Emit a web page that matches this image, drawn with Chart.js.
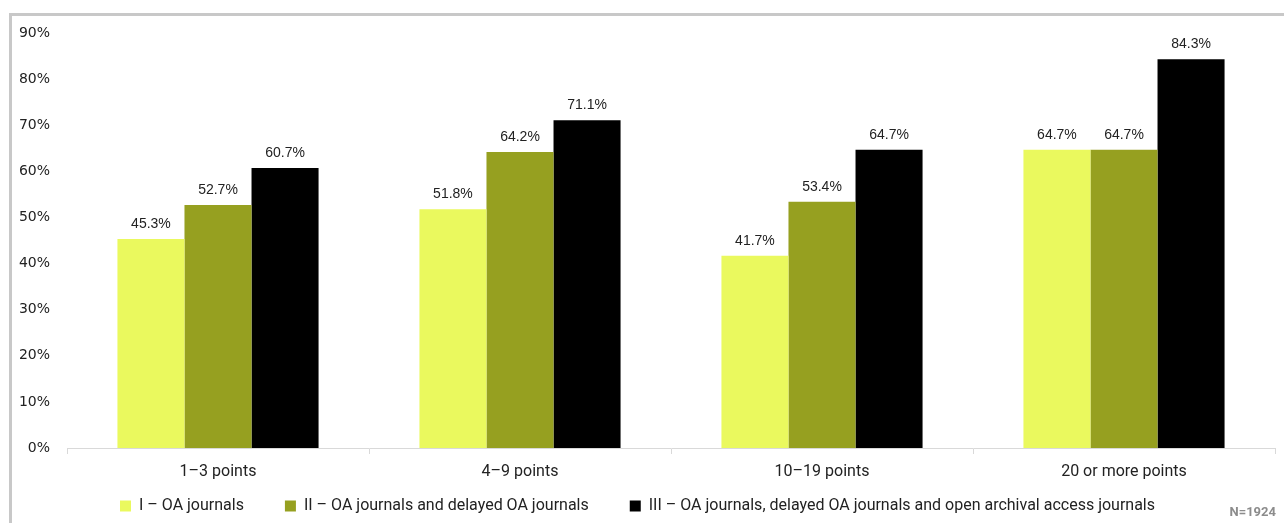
<!DOCTYPE html>
<html>
<head>
<meta charset="utf-8">
<script src="https://cdn.jsdelivr.net/npm/chart.js@4.4.1/dist/chart.umd.min.js"></script>
<style>
  html, body { margin: 0; padding: 0; background: #fff; }
  #wrap { position: relative; width: 1284px; height: 523px; overflow: hidden; }
  #c { position: absolute; left: 0; top: 0; }
  .bl { position: absolute; left: 9px; top: 13px; width: 3px; height: 520px; background: #c8c8c8; }
  .bt { position: absolute; left: 9px; top: 13px; width: 1290px; height: 3px; background: #c8c8c8; }
</style>
</head>
<body>
<div id="wrap">
  <canvas id="c" width="1284" height="523"></canvas>
  <div class="bl"></div>
  <div class="bt"></div>
</div>
<script>
const categories = ["1–3 points", "4–9 points", "10–19 points", "20 or more points"];
const seriesNames = [
  "I – OA journals",
  "II – OA journals and delayed OA journals",
  "III – OA journals, delayed OA journals and open archival access journals"
];
const seriesI = [45.3, 51.8, 41.7, 64.7];
const seriesII = [52.7, 64.2, 53.4, 64.7];
const seriesIII = [60.7, 71.1, 64.7, 84.3];
const yTicks = [0, 10, 20, 30, 40, 50, 60, 70, 80, 90];
const noteText = "N=1924";

const LEGEND_GAP = 41;      // horizontal gap between legend items
const LEGEND_VPAD = 12;     // vertical padding above legend items

const legendSpacing = {
  id: 'legendSpacing',
  beforeUpdate(chart) {
    const lg = chart.legend;
    if (lg && !lg._patched) {
      lg._patched = true;
      // reduce the vertical space that the (wide) horizontal padding would add
      lg._computeTitleHeight = () => LEGEND_VPAD - LEGEND_GAP;
    }
  }
};

const valueLabels = {
  id: 'valueLabels',
  afterDatasetsDraw(chart) {
    const ctx = chart.ctx;
    ctx.save();
    ctx.font = '14px "Liberation Sans", Arial, sans-serif';
    ctx.fillStyle = '#222';
    ctx.textAlign = 'center';
    ctx.textBaseline = 'middle';
    chart.data.datasets.forEach((ds, i) => {
      const meta = chart.getDatasetMeta(i);
      meta.data.forEach((bar, j) => {
        ctx.fillText(ds.data[j].toFixed(1) + '%', bar.x, bar.y - 15);
      });
    });
    ctx.restore();
  },
  afterDraw(chart) {
    const ctx = chart.ctx;
    ctx.save();
    ctx.font = 'bold 13px Roboto, sans-serif';
    ctx.fillStyle = '#8c8c8c';
    ctx.textAlign = 'right';
    ctx.textBaseline = 'middle';
    ctx.fillText(noteText, 1276, 513);
    ctx.restore();
  }
};

new Chart(document.getElementById('c'), {
  type: 'bar',
  data: {
    labels: categories,
    datasets: [
      { label: seriesNames[0], data: seriesI, backgroundColor: '#eaf95e' },
      { label: seriesNames[1], data: seriesII, backgroundColor: '#96a020' },
      { label: seriesNames[2], data: seriesIII, backgroundColor: '#000000' }
    ]
  },
  options: {
    responsive: false,
    animation: false,
    devicePixelRatio: 1,
    layout: { padding: { left: 0, right: 9, top: 33, bottom: -1 } },
    datasets: { bar: { categoryPercentage: 0.666, barPercentage: 1.0 } },
    scales: {
      x: {
        grid: { display: true, drawOnChartArea: false, drawTicks: true, tickLength: 6, color: '#d9d9d9', offset: true },
        border: { display: true, color: '#d9d9d9' },
        ticks: { font: { family: 'Roboto', size: 16 }, color: '#222', padding: 8 },
        afterFit(s) { s.height = 38; }
      },
      y: {
        min: 0, max: 90,
        afterBuildTicks(s) { s.ticks = yTicks.map(v => ({ value: v })); },
        grid: { display: false, drawTicks: false },
        border: { display: false },
        ticks: { font: { family: 'DejaVu Sans', size: 14 }, color: '#222', padding: 17, callback: v => v + '%' },
        afterFit(s) { s.width = 67; }
      }
    },
    plugins: {
      legend: {
        position: 'bottom',
        labels: { boxWidth: 11, boxHeight: 11, padding: LEGEND_GAP, font: { family: 'Roboto', size: 16 }, color: '#222' }
      },
      tooltip: { enabled: false }
    }
  },
  plugins: [legendSpacing, valueLabels]
});
</script>
</body>
</html>
